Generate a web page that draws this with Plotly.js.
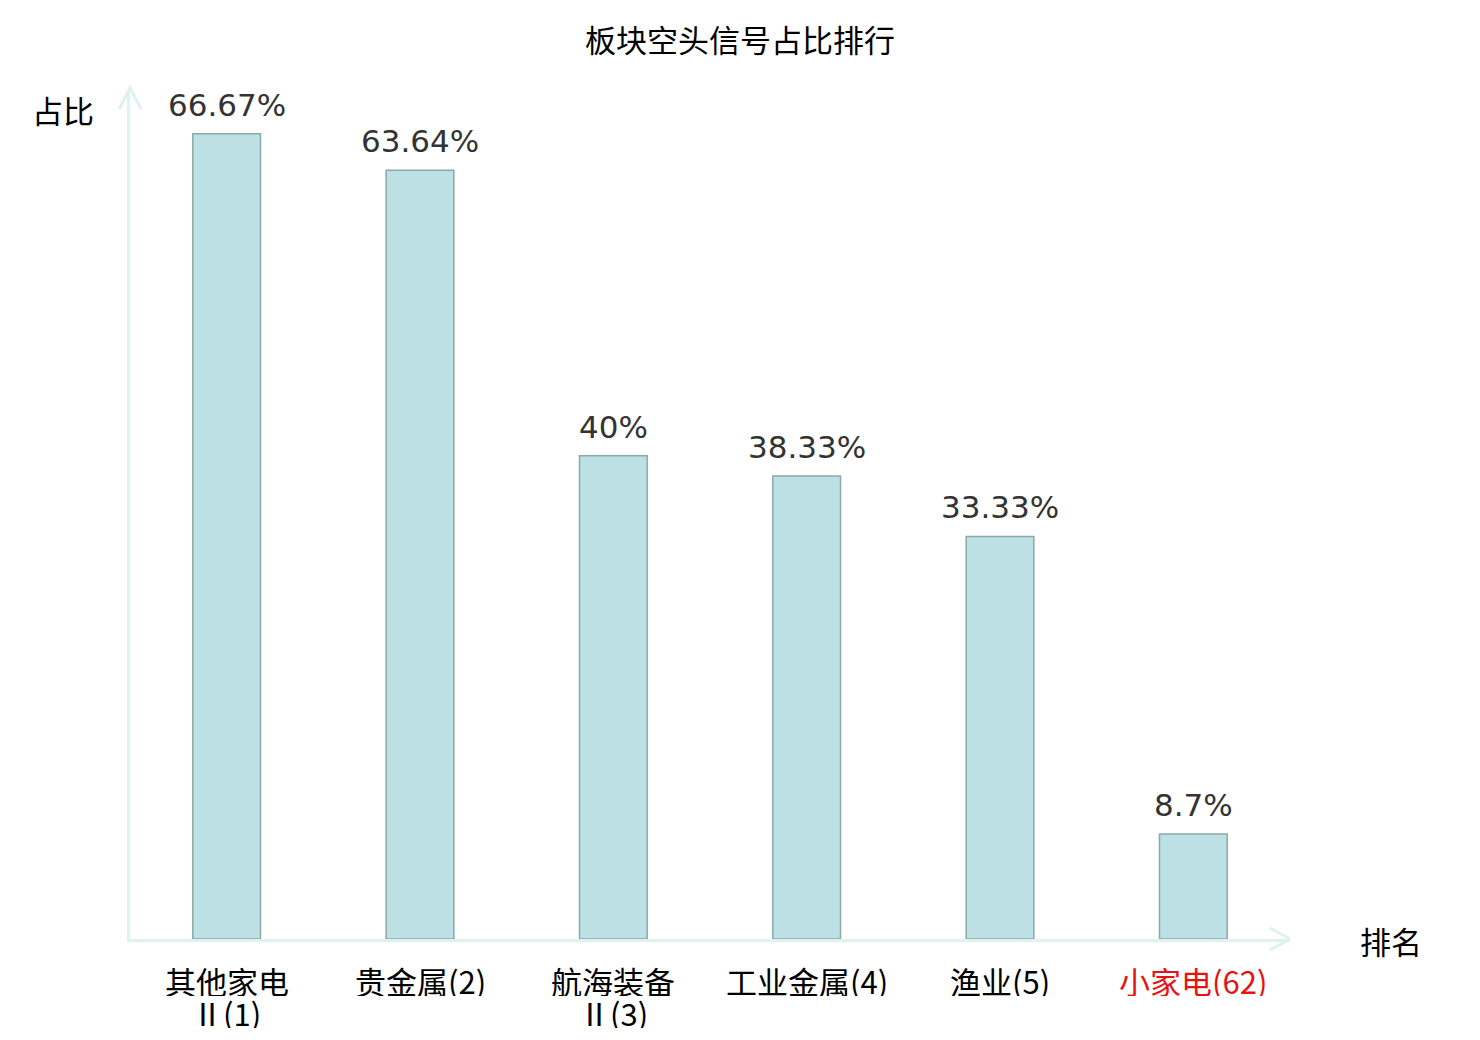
<!DOCTYPE html>
<html>
<head>
<meta charset="utf-8">
<script src="https://cdn.plot.ly/plotly-3.0.1.min.js"></script>
<style>
  html, body { margin: 0; padding: 0; background: #fff; }
  #chart { width: 1480px; height: 1040px; }
</style>
</head>
<body>
<div id="chart"></div>
<script>
/* ── Data ─────────────────────────────────────────────────── */
const SECTORS = ['其他家电<br>Ⅱ(1)', '贵金属(2)', '航海装备<br>Ⅱ(3)', '工业金属(4)', '渔业(5)', '小家电(62)'];
const SHORT_RATIO = [66.67, 63.64, 40, 38.33, 33.33, 8.7];
const VALUE_LABELS = ['66.67%', '63.64%', '40%', '38.33%', '33.33%', '8.7%'];
const HIGHLIGHT = [false, false, false, false, false, true];

/* ── Style ────────────────────────────────────────────────── */
const AXIS_COLOR = '#def2ef';
const CJK_FONT = '"Noto Sans CJK SC", "DejaVu Sans", sans-serif';
const NUM_FONT = '"DejaVu Sans", "Noto Sans CJK SC", sans-serif';
const Y_MAX = 70.2;
const X_MIN = -0.5, X_MAX = SECTORS.length - 0.5;
const xIdx = SECTORS.map((_, i) => i);

const trace = {
  type: 'bar',
  x: xIdx,
  y: SHORT_RATIO,
  width: 0.35,
  marker: { color: '#bce0e3', line: { color: '#8aa9aa', width: 1.5 } },
  hoverinfo: 'skip'
};

/* arrow heads drawn as chevron paths */
const plotW = 1480 - 130 - 190, plotH = 1040 - 91 - 101;
const pxX = p => p * (X_MAX - X_MIN) / plotW;
const pxY = p => p / plotH;

const shapes = [
  { type: 'path', xref: 'paper', yref: 'paper',
    path: `M ${-11 / plotW},${1 - pxY(21) + pxY(3)} L 0,${1 + pxY(3)} L ${11 / plotW},${1 - pxY(21) + pxY(3)}`,
    line: { color: AXIS_COLOR, width: 3 } },
  { type: 'path', xref: 'x', yref: 'paper',
    path: `M ${X_MAX - pxX(20)},${pxY(11)} L ${X_MAX},0 L ${X_MAX - pxX(20)},${-pxY(11)}`,
    line: { color: AXIS_COLOR, width: 3 } }
];

/* value labels above bars */
const valueNotes = xIdx.map(i => ({
  x: i, y: SHORT_RATIO[i], xref: 'x', yref: 'y', text: VALUE_LABELS[i],
  showarrow: false, xanchor: 'center', yanchor: 'middle', yshift: 29,
  font: { family: NUM_FONT, size: 31, color: '#333333' }
}));

/* category labels, one annotation per line (tight 32px line pitch) */
const catNotes = [];
xIdx.forEach(i => {
  SECTORS[i].split('<br>').forEach((line, k) => {
    catNotes.push({
      x: i, y: 0, xref: 'x', yref: 'paper', text: line, height: 32,
      showarrow: false, xanchor: 'center', yanchor: 'middle', yshift: -41 - 32 * k,
      font: { family: CJK_FONT, size: 31, color: HIGHLIGHT[i] ? '#e81212' : '#000000' }
    });
  });
});

const layout = {
  width: 1480, height: 1040,
  margin: { l: 130, r: 190, t: 91, b: 101 },
  paper_bgcolor: '#ffffff', plot_bgcolor: '#ffffff',
  showlegend: false,
  font: { family: CJK_FONT, color: '#000000' },
  title: { text: '板块空头信号占比排行', x: 0.5, xanchor: 'center', y: 0.96, yanchor: 'middle',
           font: { family: CJK_FONT, size: 31, color: '#000000' } },
  xaxis: {
    range: [X_MIN, X_MAX], showticklabels: false,
    showgrid: false, zeroline: false, showline: true, linecolor: AXIS_COLOR, linewidth: 3,
    ticks: '', fixedrange: true
  },
  yaxis: {
    range: [0, Y_MAX], showgrid: false, zeroline: false, showticklabels: false,
    showline: true, linecolor: AXIS_COLOR, linewidth: 3, ticks: '', fixedrange: true
  },
  shapes: shapes,
  annotations: valueNotes.concat(catNotes, [
    { text: '占比', xref: 'paper', yref: 'paper', x: (63 - 130) / plotW, y: 1 - pxY(19),
      xanchor: 'center', yanchor: 'middle', showarrow: false,
      font: { family: CJK_FONT, size: 31, color: '#000000' } },
    { text: '排名', xref: 'paper', yref: 'paper', x: 1 + 101 / plotW, y: -pxY(1),
      xanchor: 'center', yanchor: 'middle', showarrow: false,
      font: { family: CJK_FONT, size: 31, color: '#000000' } }
  ])
};

Plotly.newPlot('chart', [trace], layout, { displayModeBar: false, staticPlot: true });
</script>
</body>
</html>
